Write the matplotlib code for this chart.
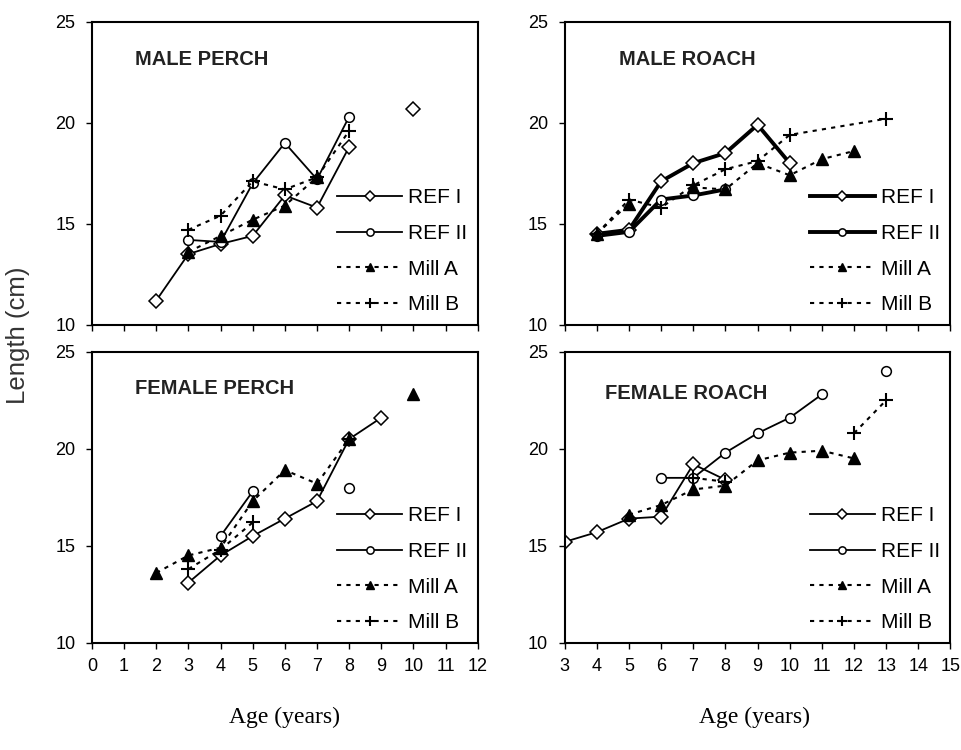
import numpy as np
import matplotlib.pyplot as plt

nan = np.nan

# male perch, ages 2..10
mp_age = [2, 3, 4, 5, 6, 7, 8, 9, 10]
mp_ref1 = [11.2, 13.5, 14.0, 14.4, 16.4, 15.8, 18.8, nan, 20.7]
mp_ref2 = [nan, 14.2, 14.1, 17.0, 19.0, 17.2, 20.3, nan, nan]
mp_milla = [nan, 13.6, 14.4, 15.2, 15.9, 17.3, nan, nan, nan]
mp_millb = [nan, 14.7, 15.4, 17.1, 16.7, 17.3, 19.6, nan, nan]

# female perch, ages 2..10
fp_age = [2, 3, 4, 5, 6, 7, 8, 9, 10]
fp_ref1 = [nan, 13.1, 14.5, 15.5, 16.4, 17.3, 20.5, 21.6, nan]
fp_ref2 = [nan, nan, 15.5, 17.8, nan, nan, 18.0, nan, nan]
fp_milla = [13.6, 14.5, 14.9, 17.3, 18.9, 18.2, 20.5, nan, 22.8]
fp_millb = [nan, 13.8, 14.8, 16.2, nan, nan, 20.5, nan, nan]

# male roach, ages 4..13
mr_age = [4, 5, 6, 7, 8, 9, 10, 11, 12, 13]
mr_ref1 = [14.5, 14.7, 17.1, 18.0, 18.5, 19.9, 18.0, nan, nan, nan]
mr_ref2 = [14.4, 14.6, 16.2, 16.4, 16.7, nan, nan, nan, nan, nan]
mr_milla = [14.5, 16.0, nan, 16.8, 16.7, 18.0, 17.4, 18.2, 18.6, nan]
mr_millb_age = [4, 5, 6, 7, 8, 9, 10, 13]
mr_millb = [14.5, 16.2, 15.8, 16.9, 17.7, 18.1, 19.4, 20.2]

# female roach, ages 3..13
fr_age = [3, 4, 5, 6, 7, 8, 9, 10, 11, 12, 13]
fr_ref1 = [15.2, 15.7, 16.4, 16.5, 19.2, 18.4, nan, nan, nan, nan, nan]
fr_ref2 = [nan, nan, nan, 18.5, 18.5, 19.8, 20.8, 21.6, 22.8, nan, 24.0]
fr_milla = [nan, nan, 16.6, 17.1, 17.9, 18.1, 19.4, 19.8, 19.9, 19.5, nan]
fr_millb = [nan, nan, nan, nan, 18.5, 18.3, nan, nan, nan, 20.8, 22.5]

plt.rcParams['font.family'] = ['Liberation Sans', 'DejaVu Sans']

fig = plt.figure(figsize=(9.62, 7.5), dpi=100)

panels = [
    ([0.0956, 0.567, 0.401, 0.404], "MALE PERCH", (0.111, 0.874), (0, 12), False,
     mp_age, mp_ref1, mp_ref2, mp_milla, mp_age, mp_millb, 1.3),
    ([0.0956, 0.143, 0.401, 0.388], "FEMALE PERCH", (0.111, 0.873), (0, 12), True,
     fp_age, fp_ref1, fp_ref2, fp_milla, fp_age, fp_millb, 1.3),
    ([0.587, 0.567, 0.401, 0.404], "MALE ROACH", (0.142, 0.877), (3, 15), False,
     mr_age, mr_ref1, mr_ref2, mr_milla, mr_millb_age, mr_millb, 2.8),
    ([0.587, 0.143, 0.401, 0.388], "FEMALE ROACH", (0.104, 0.856), (3, 15), True,
     fr_age, fr_ref1, fr_ref2, fr_milla, fr_age, fr_millb, 1.3),
]

dash = (0, (2, 2.5))

for rect, title, tpos, xr, xlab, age, r1, r2, ma, bage, mb, lw in panels:
    ax = fig.add_axes(rect)
    ax.plot(age, r1, '-', color='black', lw=lw, marker='D', ms=7,
            mfc='white', mec='black', mew=1.1, label='REF I')
    ax.plot(age, r2, '-', color='black', lw=lw, marker='o', ms=7,
            mfc='white', mec='black', mew=1.1, label='REF II')
    ax.plot(age, ma, linestyle=dash, color='black', lw=1.5, marker='^', ms=8,
            mfc='black', mec='black', label='Mill A')
    ax.plot(bage, mb, linestyle=dash, color='black', lw=1.5, marker='+', ms=10,
            mew=1.5, label='Mill B')
    ax.set_xlim(*xr)
    ax.set_ylim(10, 25)
    ax.set_yticks([10, 15, 20, 25])
    ax.set_xticks(range(xr[0], xr[1] + 1))
    ax.tick_params(axis='both', direction='out', length=4, width=1,
                   labelsize=13, colors='black')
    ax.tick_params(axis='y', pad=8)
    ax.tick_params(axis='x', pad=7)
    if not xlab:
        ax.tick_params(axis='x', labelbottom=False)
    for s in ax.spines.values():
        s.set_linewidth(1.5)
    ax.text(tpos[0], tpos[1], title, transform=ax.transAxes, fontsize=14.5,
            fontweight='bold', va='center', ha='left', color='#222222')
    ax.legend(loc='lower right', frameon=False, handlelength=3.1,
              handletextpad=0.3, labelspacing=0.8, fontsize=15,
              borderaxespad=0.1, markerscale=0.75)

fig.text(0.019, 0.553, "Length (cm)", rotation=90, fontsize=18.5,
         ha='center', va='center', color='#333333')
fig.text(0.296, 0.043, "Age (years)", family=['Liberation Serif', 'DejaVu Serif'],
         fontsize=17, ha='center', va='center')
fig.text(0.784, 0.043, "Age (years)", family=['Liberation Serif', 'DejaVu Serif'],
         fontsize=17, ha='center', va='center')

fig.savefig("out.png", dpi=100)
